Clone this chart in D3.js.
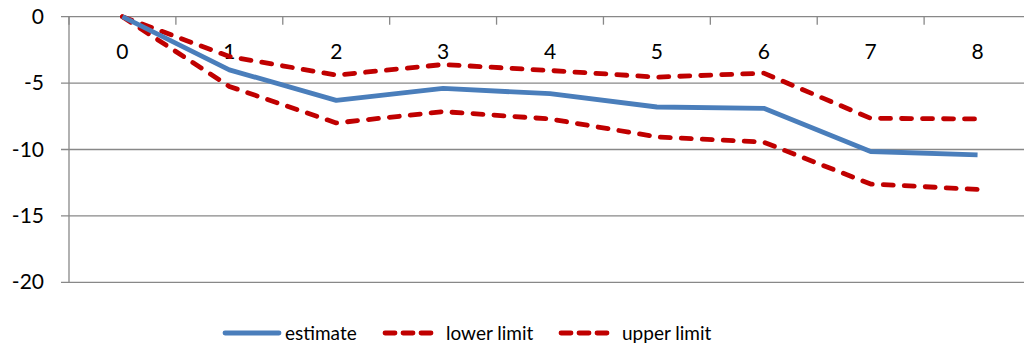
<!DOCTYPE html>
<html>
<head>
<meta charset="utf-8">
<script src="https://cdn.jsdelivr.net/npm/d3@7"></script>
<style>
  body { margin: 0; background: #fff; }
  text { font-family: Lato, "Open Sans", sans-serif; fill: #000; }
</style>
</head>
<body>
<div id="vis"></div>
<script>
const categories = ["0", "1", "2", "3", "4", "5", "6", "7", "8"];
const estimate = [0, -4.0, -6.3, -5.4, -5.8, -6.8, -6.9, -10.15, -10.4];
const lowerLimit = [0, -5.25, -8.0, -7.15, -7.7, -9.05, -9.45, -12.6, -13.0];
const upperLimit = [0, -3.0, -4.4, -3.6, -4.05, -4.55, -4.25, -7.65, -7.7];
const yTicks = [0, -5, -10, -15, -20];

const seriesNames = ["estimate", "lower limit", "upper limit"];
const seriesData = [estimate, lowerLimit, upperLimit];
const seriesColors = ["#4a7ebb", "#c00000", "#c00000"];
const seriesDash = [null, "10,11", "10,11"];

const W = 1024, H = 351;
const plot = {left: 69, right: 1031, top: 16.7, bottom: 282.3};

const svg = d3.select("#vis").append("svg")
    .attr("width", W)
    .attr("height", H);

const x = d3.scaleBand()
    .domain(categories)
    .range([plot.left, plot.right]);

const y = d3.scaleLinear()
    .domain([0, -20])
    .range([plot.top, plot.bottom]);

// horizontal gridlines
svg.append("g")
    .selectAll("line")
    .data(yTicks)
    .enter()
    .append("line")
    .attr("x1", plot.left - 8)
    .attr("x2", plot.right)
    .attr("y1", d => y(d))
    .attr("y2", d => y(d))
    .attr("stroke", "#888")
    .attr("stroke-width", 1.3);

// y axis line
svg.append("line")
    .attr("x1", plot.left).attr("x2", plot.left)
    .attr("y1", plot.top).attr("y2", plot.bottom)
    .attr("stroke", "#888")
    .attr("stroke-width", 1.3);

// y labels
svg.append("g")
    .selectAll("text")
    .data(yTicks)
    .enter()
    .append("text")
    .attr("x", 44)
    .attr("y", d => y(d) + 7)
    .attr("text-anchor", "end")
    .style("font-size", "21px")
    .text(d => d);

// category ticks hanging from the zero line
const tickPos = d3.range(categories.length + 1).map(i => plot.left + i * x.step());
svg.append("g")
    .selectAll("line")
    .data(tickPos)
    .enter()
    .append("line")
    .attr("x1", d => d).attr("x2", d => d)
    .attr("y1", y(0)).attr("y2", y(0) + 8)
    .attr("stroke", "#888")
    .attr("stroke-width", 1.3);

// category labels under the zero line
svg.append("g")
    .selectAll("text")
    .data(categories)
    .enter()
    .append("text")
    .attr("x", d => x(d) + x.bandwidth() / 2)
    .attr("y", 59)
    .attr("text-anchor", "middle")
    .style("font-size", "21px")
    .text(d => d);

const line = d3.line()
    .x((d, i) => x(categories[i]) + x.bandwidth() / 2)
    .y(d => y(d));

// draw upper/lower first, estimate last
[1, 2, 0].forEach(k => {
    svg.append("path")
        .datum(seriesData[k])
        .attr("d", line)
        .attr("fill", "none")
        .attr("stroke", seriesColors[k])
        .attr("stroke-width", 4.8)
        .attr("stroke-linejoin", "round")
        .attr("stroke-linecap", k === 0 ? "butt" : "round")
        .attr("stroke-dasharray", seriesDash[k]);
});

// legend
const legendX = [223, 383, 559];
const legend = svg.append("g");
seriesNames.forEach((name, i) => {
    const g = legend.append("g").attr("transform", `translate(${legendX[i]}, 333)`);
    g.append("line")
        .attr("x1", 2).attr("x2", i === 0 ? 56 : 48)
        .attr("y1", 0).attr("y2", 0)
        .attr("stroke", seriesColors[i])
        .attr("stroke-width", 4.8)
        .attr("stroke-linecap", "round")
        .attr("stroke-dasharray", i === 0 ? null : "10,8");
    g.append("text")
        .attr("x", i === 0 ? 62 : 63)
        .attr("y", 7)
        .style("font-size", "19px")
        .text(name);
});
</script>
</body>
</html>
